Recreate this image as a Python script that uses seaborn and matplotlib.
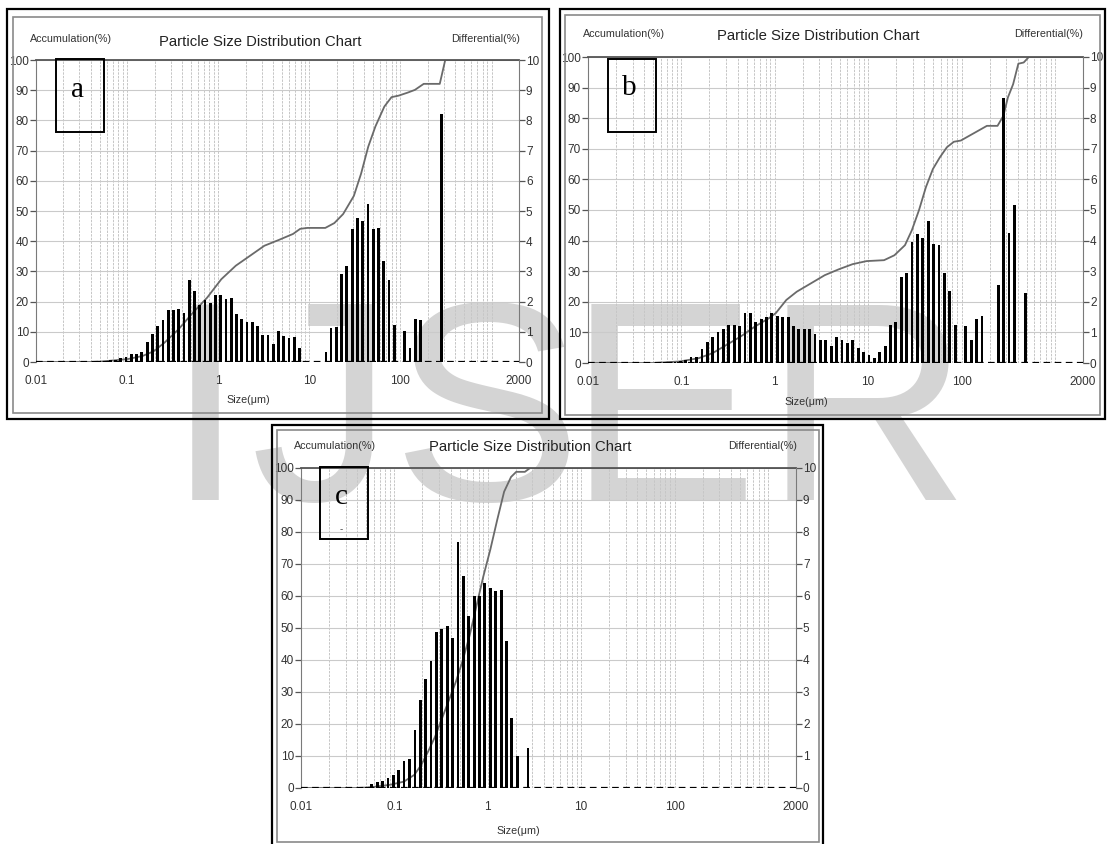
import numpy as np
import pandas as pd
import matplotlib
matplotlib.use("Agg")
import matplotlib.pyplot as plt
import seaborn as sns
from matplotlib.patches import Rectangle
from matplotlib.ticker import FixedLocator, NullFormatter
from matplotlib import font_manager

# ---------------- data ----------------
# size classes (µm) shared by the three measurements
BIN_UM = [0.0439, 0.0501, 0.0573, 0.0654, 0.0747, 0.0853, 0.0974, 0.111, 0.127, 0.145,
          0.166, 0.189, 0.216, 0.247, 0.282, 0.322, 0.368, 0.420, 0.480, 0.548,
          0.626, 0.715, 0.816, 0.932, 1.06, 1.22, 1.39, 1.59, 1.81, 2.07,
          2.36, 2.70, 3.08, 3.52, 4.02, 4.59, 5.24, 5.99, 6.84, 7.81,
          8.92, 10.2, 11.6, 13.3, 15.2, 17.3, 19.8, 22.6, 25.8, 29.5,
          33.7, 38.5, 43.9, 50.2, 57.3, 65.5, 74.8, 85.4, 97.5, 111,
          127, 145, 166, 190, 216, 247, 282, 322, 368, 420, 480]

# differential (%) per size class
DIFF_A = [0.02, 0.03, 0.04, 0.05, 0.08, 0.12, 0.18, 0.25, 0.28, 0.32,
          0.65, 0.94, 1.19, 1.38, 1.72, 1.72, 1.74, 1.63, 2.71, 2.34,
          1.90, 2.05, 1.96, 2.23, 2.23, 2.10, 2.11, 1.60, 1.41, 1.33,
          1.33, 1.19, 0.91, 0.91, 0.58, 1.02, 0.87, 0.78, 0.82, 0.47,
          0.0, 0.0, 0.0, 0.0, 0.33, 1.13, 1.15, 2.91, 3.19, 4.42,
          4.77, 4.68, 5.22, 4.41, 4.43, 3.35, 2.71, 1.24, 0.0, 1.02,
          0.47, 1.41, 1.38, 0.0, 0.0, 0.0, 8.21, 0.0, 0.0, 0.0, 0.0]
DIFF_B = [0.0, 0.01, 0.02, 0.02, 0.03, 0.04, 0.05, 0.10, 0.20, 0.20,
          0.45, 0.70, 0.85, 1.00, 1.10, 1.25, 1.25, 1.20, 1.65, 1.65,
          1.35, 1.45, 1.50, 1.65, 1.55, 1.50, 1.50, 1.20, 1.10, 1.10,
          1.10, 0.95, 0.75, 0.75, 0.55, 0.85, 0.75, 0.65, 0.75, 0.50,
          0.35, 0.25, 0.15, 0.35, 0.55, 1.25, 1.35, 2.80, 2.95, 3.95,
          4.20, 4.10, 4.65, 3.90, 3.85, 2.95, 2.35, 1.25, 0.0, 1.20,
          0.75, 1.45, 1.55, 0.0, 0.0, 2.55, 8.65, 4.25, 5.15, 0.0, 2.30]
DIFF_C = [0.01, 0.03, 0.12, 0.18, 0.22, 0.32, 0.42, 0.55, 0.85, 0.90,
          1.80, 2.75, 3.40, 3.98, 4.86, 4.96, 5.07, 4.70, 7.70, 6.64,
          5.38, 6.00, 6.00, 6.41, 6.26, 6.15, 6.20, 4.60, 2.19, 1.00,
          0.0, 1.24, 0.0, 0.0, 0.0, 0.0, 0.0, 0.0, 0.0, 0.0,
          0.0, 0.0, 0.0, 0.0, 0.0, 0.0, 0.0, 0.0, 0.0, 0.0,
          0.0, 0.0, 0.0, 0.0, 0.0, 0.0, 0.0, 0.0, 0.0, 0.0,
          0.0, 0.0, 0.0, 0.0, 0.0, 0.0, 0.0, 0.0, 0.0, 0.0, 0.0]

# accumulation curves (size µm, %)
CUM_A_UM = [0.01, 0.04, 0.0548, 0.103, 0.148, 0.194, 0.255, 0.366, 0.526, 0.755, 1.08, 1.56,
            2.24, 3.21, 4.61, 6.62, 7.94, 9.51, 14.96, 18.8, 23.5, 30.8, 37.0, 44.3,
            53.1, 66.6, 79.8, 95.5, 120, 144, 180, 270, 310, 2000]
CUM_A = [0, 0, 0.2, 1.0, 2.0, 3.5, 6.3, 10.8, 16.3, 21.3, 27.4, 31.9,
         35.2, 38.5, 40.4, 42.4, 44.1, 44.4, 44.4, 46.0, 49.0, 55.0, 62.4, 71.3,
         78.0, 84.6, 87.7, 88.2, 89.2, 90.1, 92.1, 92.1, 100, 100]
CUM_B_UM = [0.01, 0.05, 0.0962, 0.1545, 0.218, 0.308, 0.434, 0.612, 0.863, 1.026, 1.33,
            1.72, 2.43, 3.43, 4.83, 6.82, 9.62, 14.8, 19.1, 24.8, 29.4, 35.0, 41.6,
            49.4, 58.6, 69.7, 82.8, 98.4, 117, 151, 187, 243, 281, 314, 357, 406,
            463, 526, 2000]
CUM_B = [0, 0, 0.5, 1.6, 3.3, 6.0, 8.7, 11.9, 14.6, 16.3, 20.6,
         23.3, 26.0, 28.7, 30.6, 32.3, 33.3, 33.6, 35.2, 38.5, 43.4, 49.9, 57.5,
         63.4, 67.2, 70.5, 72.3, 72.7, 74.0, 75.9, 77.5, 77.5, 80.8, 86.8, 91.1, 97.8,
         98.2, 100, 100]
CUM_C_UM = [0.01, 0.04, 0.054, 0.090, 0.1266, 0.1634, 0.1939, 0.2298, 0.2725, 0.3231,
            0.3833, 0.4544, 0.5387, 0.639, 0.7575, 0.898, 1.065, 1.263, 1.497, 1.776,
            2.018, 2.496, 2.838, 2000]
CUM_C = [0, 0, 0.2, 1.0, 2.0, 4.1, 7.2, 11.4, 16.0, 21.7,
         27.4, 33.1, 39.8, 47.6, 56.9, 66.2, 74.5, 83.8, 92.6, 97.2,
         98.8, 98.8, 100, 100]

X_TICKS = [0.01, 0.1, 1, 10, 100, 2000]
X_TICK_LABELS = ["0.01", "0.1", "1", "10", "100", "2000"]
TITLE = "Particle Size Distribution Chart"
LEFT_LABEL = "Accumulation(%)"
RIGHT_LABEL = "Differential(%)"
X_LABEL = "Size(\u03bcm)"
WATERMARK = "IJSER"

# ---------------- style ----------------
sns.set_style("white")
avail = {f.name for f in font_manager.fontManager.ttflist}
NARROW = "Liberation Sans Narrow" in avail
FAM = "Liberation Sans Narrow" if NARROW else "Liberation Sans"
plt.rcParams["font.family"] = [FAM, "DejaVu Sans"]
k = 1.0 if NARROW else 0.86
FS_TICK = 9.8 * k
FS_TITLE = 12.5 * k
FS_LAB = 9.0 * k

W, H = 1107, 844
fig = plt.figure(figsize=(W / 100, H / 100), dpi=100, facecolor="white")


def fx(x):
    return x / W


def fy(y):
    return 1 - y / H


# watermark behind everything
for ch, cx in zip(WATERMARK, [205, 322, 486, 663, 866]):
    fig.text(fx(cx), fy(500), ch, ha="center", va="baseline", fontsize=205,
             color="#d4d4d4", family=["Liberation Sans", "DejaVu Sans"], zorder=-5)

grid_pos = [m * 10.0 ** e for e in range(-2, 4) for m in range(2, 10)] + [1000]
grid_pos = [g for g in grid_pos if 0.01 < g < 2000]
hw = 0.0577 * 0.26  # half bar width in decades


def panel(ax_px, outer, inner, diff, cum_x, cum_y, title_xy, acc_xy, dif_xy, size_xy,
          letter, box, letter_xy):
    x0, y0, x1, y1 = ax_px
    fig.add_artist(Rectangle((fx(outer[0]), fy(outer[3])), (outer[2] - outer[0]) / W,
                             (outer[3] - outer[1]) / H, transform=fig.transFigure,
                             fill=False, ec="black", lw=1.6, zorder=1))
    fig.add_artist(Rectangle((fx(inner[0]), fy(inner[3])), (inner[2] - inner[0]) / W,
                             (inner[3] - inner[1]) / H, transform=fig.transFigure,
                             fill=False, ec="#8a8a8a", lw=1.2, zorder=1))
    ax = fig.add_axes([fx(x0), fy(y1), (x1 - x0) / W, (y1 - y0) / H])
    ax.patch.set_visible(False)
    ax.set_xscale("log")
    ax.set_xlim(0.01, 2000)
    ax.set_ylim(0, 100)
    ax.xaxis.set_minor_locator(FixedLocator(grid_pos))
    ax.xaxis.set_minor_formatter(NullFormatter())
    ax.set_xticks(X_TICKS)
    ax.set_xticklabels(X_TICK_LABELS)
    ax.set_yticks(range(0, 101, 10))
    ax.grid(True, axis="x", which="both", color="#c6c6c6", lw=0.7, ls=(0, (2.5, 1.2)))
    ax.grid(True, axis="y", which="major", color="#cacaca", lw=0.8)
    ax.tick_params(axis="x", which="minor", length=0)
    ax.tick_params(axis="x", which="major", length=4, width=0.9, color="#555555",
                   labelsize=FS_TICK, labelcolor="#333333", pad=5, direction="out")
    ax.tick_params(axis="y", length=4, width=0.9, color="#555555", labelsize=FS_TICK,
                   labelcolor="#333333", pad=1, direction="out", left=True)
    sns.lineplot(x=cum_x, y=cum_y, ax=ax, color="#6a6a6a", linewidth=1.3, sort=False)
    ax.set_xlabel("")
    ax.set_ylabel("")
    ax.spines["bottom"].set_visible(False)
    ax.spines["right"].set_visible(False)
    ax.spines["left"].set_color("#7a7a7a")
    ax.spines["top"].set_color("#555555")
    ax.spines["top"].set_linewidth(1.3)

    ax2 = ax.twinx()
    ax2.patch.set_visible(False)
    ax2.set_ylim(0, 10)
    ax2.set_yticks(range(0, 11))
    sizes = np.array(BIN_UM)
    lefts = sizes * 10 ** (-hw)
    widths = sizes * (10 ** hw - 10 ** (-hw))
    ax2.bar(lefts, diff, width=widths, align="edge", color="black", linewidth=0)
    ax2.axhline(0, color="black", lw=1.6, ls=(0, (3, 2)), zorder=3)
    ax2.set_xlim(0.01, 2000)
    ax2.tick_params(axis="y", length=4, width=0.9, color="#555555", labelsize=FS_TICK,
                    labelcolor="#333333", pad=1, direction="out", right=True)
    for s in ["left", "top", "bottom"]:
        ax2.spines[s].set_visible(False)
    ax2.spines["right"].set_color("#7a7a7a")

    fig.text(fx(title_xy[0]), fy(title_xy[1]), TITLE, ha="center", va="center",
             fontsize=FS_TITLE, color="#222222")
    fig.text(fx(acc_xy[0]), fy(acc_xy[1]), LEFT_LABEL, ha="center", va="center",
             fontsize=FS_LAB, color="#333333")
    fig.text(fx(dif_xy[0]), fy(dif_xy[1]), RIGHT_LABEL, ha="center", va="center",
             fontsize=FS_LAB, color="#333333")
    fig.text(fx(size_xy[0]), fy(size_xy[1]), X_LABEL, ha="center", va="center",
             fontsize=FS_LAB, color="#333333")
    fig.add_artist(Rectangle((fx(box[0]), fy(box[3])), (box[2] - box[0]) / W,
                             (box[3] - box[1]) / H, transform=fig.transFigure,
                             fill=False, ec="black", lw=1.4, zorder=5))
    fig.text(fx(letter_xy[0]), fy(letter_xy[1]), letter, ha="center", va="center",
             fontsize=21, family=["Liberation Serif", "DejaVu Serif"], color="black", zorder=6)
    return ax, ax2


panel((36, 60, 519, 362), (7, 9, 549, 419), (13, 17, 542, 413), DIFF_A, CUM_A_UM, CUM_A,
      (260, 42), (71, 39), (486, 39), (248, 400), "a", (56, 59, 104, 132), (77, 90))
panel((588, 57, 1083, 363), (560, 9, 1105, 419), (565, 15, 1100, 415), DIFF_B, CUM_B_UM, CUM_B,
      (818, 36), (624, 34), (1049, 34), (806, 402), "b", (608, 59, 656, 132), (629, 88))
panel((301, 468, 796, 788), (272, 425, 823, 846), (277, 430, 819, 842), DIFF_C, CUM_C_UM, CUM_C,
      (530, 447), (335, 446), (763, 446), (518, 831), "c", (320, 467, 368, 539), (341, 497))
fig.text(fx(341), fy(529), "-", ha="center", va="center", fontsize=7, color="#444444", zorder=6)

fig.savefig("out.png", dpi=100, facecolor="white")
